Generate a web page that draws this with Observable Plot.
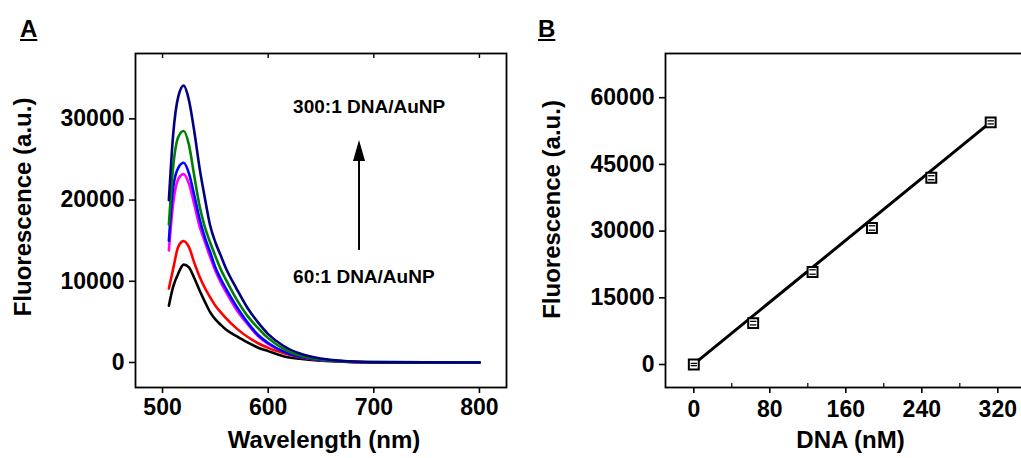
<!DOCTYPE html>
<html><head><meta charset="utf-8">
<script src="https://cdn.jsdelivr.net/npm/d3@7"></script>
<script src="https://cdn.jsdelivr.net/npm/@observablehq/plot@0.6"></script>
<style>
body{margin:0;background:#fff;overflow:hidden;}
#wrap{position:relative;width:1021px;height:458px;overflow:hidden;background:#fff;font-family:Arial,"Liberation Sans",sans-serif;}
.panel{position:absolute;top:0;z-index:1;}
.tag{position:absolute;z-index:3;font-weight:bold;font-size:24px;text-decoration:underline;text-decoration-thickness:2px;text-underline-offset:2px;line-height:1;color:#000;}
</style></head><body>
<div id="wrap"><div class="tag" style="left:20px;top:17px">A</div><div class="tag" style="left:538px;top:17px">B</div></div>
<script>
// ---------- Panel A: emission spectra ----------
const wavelength = [506,510,515,520,525,530,535,540,545,550,555,560,570,580,590,600,615,630,650,675,700,750,800];
const spec60  = [7000,9300,11000,12050,11700,10400,8900,7500,6200,5300,4650,4050,3250,2500,1850,1400,750,450,220,80,25,5,0];
const specRed = [9100,11500,14300,14950,14200,12300,10600,9200,8050,7000,6200,5450,4200,3200,2400,1800,1150,650,280,90,30,5,0];
const specMag = [13800,19500,22600,23200,22000,19500,16800,14900,13000,11300,9900,8700,6500,4800,3300,2300,1350,700,300,100,30,5,0];
const specBlu = [15000,21500,24000,24600,23300,20600,17700,15400,13600,11700,10300,9100,6900,5000,3450,2400,1300,700,300,100,30,5,0];
const specGrn = [17000,24000,27800,28500,26800,23000,19300,16700,14800,13100,11500,10200,7800,5800,4300,3000,1650,850,380,120,40,10,0];
const spec300 = [20000,28000,32800,34100,32300,28500,24000,20300,16900,14800,13200,11600,9100,6800,5000,3500,2000,1100,480,150,50,10,0];
const seriesNames = ["black","red","magenta","blue","green","navy"];
const seriesColors = ["#000000","#ff0000","#ff00ff","#0000ff","#008000","#000080"];
const seriesValues = [spec60, specRed, specMag, specBlu, specGrn, spec300];
const xTicksA = [500,600,700,800];
const yTicksA = [0,10000,20000,30000];
const annoLabels = ["300:1 DNA/AuNP","60:1 DNA/AuNP"];
const annoX = [623.6, 623.6];
const annoY = [31500, 10500];
const arrowX = [686];
const arrowFrom = [13800];
const arrowHeadBase = [24800];

// ---------- Panel B: calibration ----------
const dnaConc = [0,62.5,125,187.5,250,312.5];
const fluor = [0,9300,20800,30700,42000,54450];
const fluorErr = [250,400,500,500,450,350];
const fitX = [0,312.5];
const fitY = [100,54500];
const xTicksB = [0,80,160,240,320];
const xMinorB = [40,120,200,280];
const yTicksB = [0,15000,30000,45000,60000];

const font = 'Arial, "Liberation Sans", sans-serif';
const style = {fontFamily: font, fontSize: "23px", fontWeight: "bold", color: "black", background: "transparent", overflow: "visible"};

const spectra = [];
seriesValues.forEach((vals, s) => vals.forEach((v, i) => spectra.push({wl: wavelength[i], f: v, name: seriesNames[s]})));
const annos = annoLabels.map((t, i) => ({t, x: annoX[i], y: annoY[i]}));
const arrows = arrowX.map((x, i) => ({x, y1: arrowFrom[i], y2: arrowHeadBase[i]}));

const titleOpts = {fontSize: 24, fontWeight: "bold", fill: "black", textAnchor: "middle", lineAnchor: "middle"};

const plotA = Plot.plot({
  width: 520, height: 458,
  marginLeft: 135, marginRight: 14, marginTop: 53, marginBottom: 71,
  style,
  x: {domain: [474.4, 825.6]},
  y: {domain: [-3080, 38050]},
  color: {domain: seriesNames, range: seriesColors},
  marks: [
    Plot.axisX({ticks: xTicksA, tickSize: 6, tickPadding: 5, strokeWidth: 1.6, tickFormat: d => String(d), label: null}),
    Plot.axisX({anchor: "top", ticks: xTicksA, tickSize: -4, strokeWidth: 1.4, tickFormat: () => "", label: null}),
    Plot.axisY({ticks: yTicksA, tickSize: 6, tickPadding: 5, strokeWidth: 1.6, tickFormat: d => String(d), label: null}),
    Plot.line(spectra, {x: "wl", y: "f", z: "name", stroke: "name", strokeWidth: 2.6, curve: "monotone-x"}),
    Plot.ruleX(arrows, {x: "x", y1: "y1", y2: "y2", stroke: "black", strokeWidth: 2}),
    Plot.vector(arrows, {x: "x", y: "y2", shape: "spike", anchor: "start", length: 21, r: 6, fill: "black", stroke: "none"}),
    Plot.text(annos, {x: "x", y: "y", text: "t", textAnchor: "start", fontSize: 19, fontWeight: "bold", fill: "black"}),
    Plot.text(["Wavelength (nm)"], {frameAnchor: "bottom", dx: 3, dy: 53, ...titleOpts}),
    Plot.text(["Fluorescence (a.u.)"], {frameAnchor: "left", rotate: -90, dx: -112, dy: -13.5, ...titleOpts}),
    Plot.frame({stroke: "black", strokeWidth: 1.8})
  ]
});

const pts = dnaConc.map((x, i) => ({x, y: fluor[i], e: fluorErr[i]}));
const fit = fitX.map((x, i) => ({x, y: fitY[i]}));
const capSymbol = {draw(ctx, size) { const w = Math.sqrt(size / Math.PI); ctx.moveTo(-w, 0); ctx.lineTo(w, 0); }};

const plotB = Plot.plot({
  width: 520, height: 458,
  marginLeft: 145, marginRight: 14, marginTop: 53, marginBottom: 71,
  style,
  x: {domain: [-29.8, 350.2]},
  y: {domain: [-5170, 69940]},
  marks: [
    Plot.axisX({ticks: xTicksB, tickSize: 6, tickPadding: 7, strokeWidth: 1.6, tickFormat: d => String(d), label: null}),
    Plot.axisX({ticks: xMinorB, tickSize: -4, strokeWidth: 1.2, tickFormat: () => "", label: null}),
    Plot.axisY({ticks: yTicksB, tickSize: 6, tickPadding: 5, strokeWidth: 1.6, tickFormat: d => String(d), label: null}),
    Plot.line(fit, {x: "x", y: "y", stroke: "black", strokeWidth: 3}),
    Plot.dot(pts, {x: "x", y: "y", symbol: "square", r: 5.6, fill: "white", stroke: "black", strokeWidth: 2}),
    Plot.dot(pts, {x: "x", y: d => d.y + d.e, symbol: capSymbol, r: 3.2, stroke: "black", strokeWidth: 1.3}),
    Plot.dot(pts, {x: "x", y: d => d.y - d.e, symbol: capSymbol, r: 3.2, stroke: "black", strokeWidth: 1.3}),
    Plot.text(["DNA (nM)"], {frameAnchor: "bottom", dx: 4.5, dy: 53, ...titleOpts}),
    Plot.text(["Fluorescence (a.u.)"], {frameAnchor: "left", rotate: -90, dx: -113, dy: -11, ...titleOpts}),
    Plot.frame({stroke: "black", strokeWidth: 1.8})
  ]
});

const wrap = document.getElementById("wrap");
plotA.classList.add("panel"); plotA.style.left = "0px";
plotB.classList.add("panel"); plotB.style.left = "520px";
wrap.appendChild(plotA);
wrap.appendChild(plotB);
</script>
</body></html>
